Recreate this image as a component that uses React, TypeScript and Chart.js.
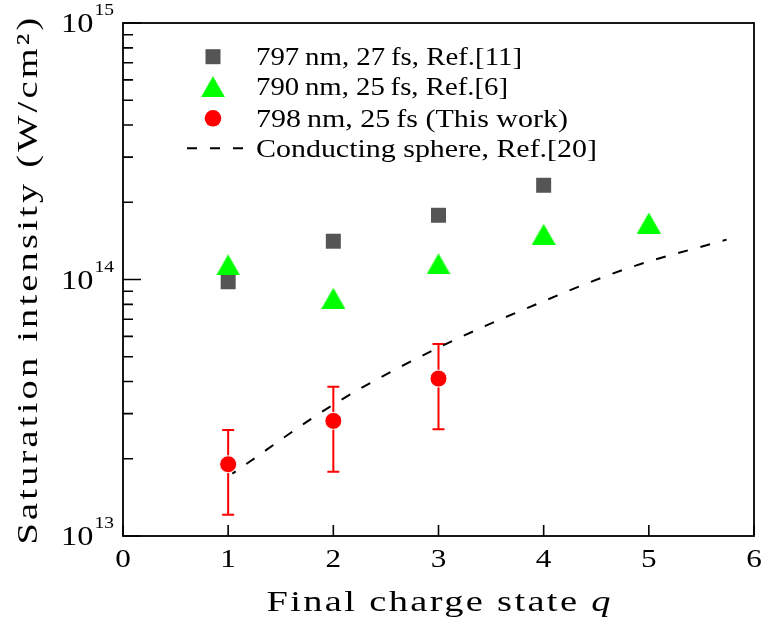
import React, { useEffect, useRef } from 'react';
import { Chart, registerables } from 'chart.js';

Chart.register(...registerables);

// ---- data ----
const qRef11 = [1, 2, 3, 4];
const iRef11 = [0.98e14, 1.41e14, 1.78e14, 2.33e14];

const qRef6 = [1, 2, 3, 4, 5];
const iRef6 = [1.14e14, 0.845e14, 1.15e14, 1.5e14, 1.66e14];

const qThis = [1, 2, 3];
const iThis = [1.905e13, 2.81e13, 4.11e13];
const iThisHigh = [2.59e13, 3.82e13, 5.6e13];
const iThisLow = [1.21e13, 1.78e13, 2.61e13];

const qSphere = [1.04, 2.03, 2.99, 3.99, 4.81, 5.74];
const iSphere = [1.75e13, 3.31e13, 5.4e13, 8.2e13, 1.11e14, 1.43e14];

const xTicks = [0, 1, 2, 3, 4, 5, 6];
const yMajorExps = [13, 14, 15];

const legendLabels = [
  '797\u2009nm, 27\u2009fs, Ref.[11]',
  '790\u2009nm, 25\u2009fs, Ref.[6]',
  '798\u2009nm, 25\u2009fs (This work)',
  'Conducting sphere, Ref.[20]',
];
const xTitleMain = 'Final charge state ';
const xTitleVar = 'q';
const yTitle = 'Saturation intensity (W/cm\u00b2)';

const SERIF = '"Liberation Serif"';
const BASE_SX = 1.28;

function makeTriangle(): HTMLCanvasElement {
  const c = document.createElement('canvas');
  c.width = 24;
  c.height = 21;
  const g = c.getContext('2d')!;
  g.fillStyle = '#00ff00';
  g.beginPath();
  g.moveTo(12, 0);
  g.lineTo(24, 21);
  g.lineTo(0, 21);
  g.closePath();
  g.fill();
  return c;
}

// draws text stretched and letter-spaced so that it covers `width` pixels
function fitText(
  ctx: CanvasRenderingContext2D,
  text: string,
  x: number,
  y: number,
  font: string,
  width: number,
  align: 'left' | 'center' | 'right'
) {
  ctx.save();
  ctx.font = font;
  (ctx as any).letterSpacing = '0px';
  const w = ctx.measureText(text).width;
  const n = text.length;
  const spacing = Math.max(0, (width / BASE_SX - w) / n);
  (ctx as any).letterSpacing = `${spacing}px`;
  const w2 = ctx.measureText(text).width;
  const sx = width / w2;
  ctx.translate(x, y);
  ctx.scale(sx, 1);
  ctx.textAlign = 'left';
  ctx.textBaseline = 'alphabetic';
  const x0 = align === 'left' ? 0 : align === 'center' ? -w2 / 2 : -w2;
  ctx.fillText(text, x0, 0);
  ctx.restore();
}

function scaledText(
  ctx: CanvasRenderingContext2D,
  text: string,
  x: number,
  y: number,
  font: string,
  sx: number,
  align: 'left' | 'center' | 'right'
) {
  ctx.save();
  ctx.font = font;
  ctx.translate(x, y);
  ctx.scale(sx, 1);
  ctx.textAlign = align;
  ctx.textBaseline = 'alphabetic';
  ctx.fillText(text, 0, 0);
  ctx.restore();
}

export default function App() {
  const ref = useRef<HTMLCanvasElement | null>(null);

  useEffect(() => {
    document.body.style.margin = '0';
    const canvas = ref.current!;
    const tri = makeTriangle();

    const plugin = {
      id: 'customFrame',
      beforeDatasetsDraw(chart: any) {
        const ctx: CanvasRenderingContext2D = chart.ctx;
        const xs = chart.scales.x;
        const ys = chart.scales.y;
        ctx.save();
        ctx.strokeStyle = '#ff0000';
        ctx.lineWidth = 2;
        qThis.forEach((q, i) => {
          const px = xs.getPixelForValue(q);
          const yh = ys.getPixelForValue(iThisHigh[i]);
          const yl = ys.getPixelForValue(iThisLow[i]);
          ctx.beginPath();
          ctx.moveTo(px, yh);
          ctx.lineTo(px, yl);
          ctx.moveTo(px - 6, yh);
          ctx.lineTo(px + 6, yh);
          ctx.moveTo(px - 6, yl);
          ctx.lineTo(px + 6, yl);
          ctx.stroke();
        });
        ctx.restore();
      },
      afterDraw(chart: any) {
        const ctx: CanvasRenderingContext2D = chart.ctx;
        const xs = chart.scales.x;
        const ys = chart.scales.y;
        const { left, right, top, bottom } = chart.chartArea;
        ctx.save();
        ctx.strokeStyle = '#000';
        ctx.fillStyle = '#000';
        ctx.lineWidth = 1.8;
        ctx.strokeRect(left, top, right - left, bottom - top);

        // y ticks
        ctx.lineWidth = 1.6;
        ctx.beginPath();
        yMajorExps.forEach((e) => {
          const y = ys.getPixelForValue(Math.pow(10, e));
          ctx.moveTo(left, y);
          ctx.lineTo(left + 18, y);
          if (e < 15) {
            for (let m = 2; m <= 9; m++) {
              const ym = ys.getPixelForValue(m * Math.pow(10, e));
              ctx.moveTo(left, ym);
              ctx.lineTo(left + 10, ym);
            }
          }
        });
        // x ticks
        xTicks.forEach((t) => {
          const x = xs.getPixelForValue(t);
          ctx.moveTo(x, bottom);
          ctx.lineTo(x, bottom - 11);
        });
        ctx.stroke();

        // x tick labels
        xTicks.forEach((t) => {
          const x = xs.getPixelForValue(t);
          scaledText(ctx, String(t), x, bottom + 31, `26px ${SERIF}`, 1.2, 'center');
        });

        // y tick labels 10^e
        yMajorExps.forEach((e) => {
          const y = ys.getPixelForValue(Math.pow(10, e));
          const supFont = `17px ${SERIF}`;
          ctx.font = supFont;
          const supW = ctx.measureText(String(e)).width * 1.15;
          const supRight = left - 9;
          scaledText(ctx, String(e), supRight, y - 8, supFont, 1.15, 'right');
          scaledText(ctx, '10', supRight - supW - 1, y + 9, `27px ${SERIF}`, 1.2, 'right');
        });

        // x axis title
        ctx.font = `30px ${SERIF}`;
        const wMain = ctx.measureText(xTitleMain).width;
        ctx.font = `italic 30px ${SERIF}`;
        const wVar = ctx.measureText(xTitleVar).width;
        const targetW = 344;
        const wVarT = wVar * BASE_SX;
        const wMainT = targetW - wVarT;
        const cx = (left + right) / 2;
        const x0 = cx - targetW / 2;
        fitText(ctx, xTitleMain, x0, 611, `30px ${SERIF}`, wMainT, 'left');
        scaledText(ctx, xTitleVar, x0 + wMainT, 611, `italic 30px ${SERIF}`, BASE_SX, 'left');

        // y axis title
        ctx.save();
        ctx.translate(37, (top + bottom) / 2);
        ctx.rotate(-Math.PI / 2);
        fitText(ctx, yTitle, 0, 0, `30px ${SERIF}`, 530, 'center');
        ctx.restore();

        // legend
        const mx = 213;
        const rows = [56.7, 86.7, 118.3, 148.3];
        const widths = [266, 252, 312, 341];
        ctx.fillStyle = '#555555';
        ctx.fillRect(mx - 7.5, rows[0] - 7.5, 15, 15);
        ctx.drawImage(tri, mx - 12, rows[1] - 10.5);
        ctx.fillStyle = '#ff0000';
        ctx.beginPath();
        ctx.arc(mx, rows[2], 8.3, 0, Math.PI * 2);
        ctx.fill();
        ctx.strokeStyle = '#000';
        ctx.lineWidth = 2;
        ctx.setLineDash([10, 13]);
        ctx.beginPath();
        ctx.moveTo(187, rows[3]);
        ctx.lineTo(243, rows[3]);
        ctx.stroke();
        ctx.setLineDash([]);
        ctx.fillStyle = '#000';
        legendLabels.forEach((lab, i) => {
          fitText(ctx, lab, 256, rows[i] + 8.5, `25px ${SERIF}`, widths[i], 'left');
        });
        ctx.restore();
      },
    };

    const chart = new Chart(canvas, {
      type: 'scatter',
      data: {
        datasets: [
          {
            label: 'sphere',
            data: qSphere.map((q, i) => ({ x: q, y: iSphere[i] })),
            showLine: true,
            borderColor: '#000',
            borderWidth: 2,
            borderDash: [10, 13],
            borderDashOffset: 6,
            cubicInterpolationMode: 'monotone',
            pointRadius: 0,
            pointHoverRadius: 0,
            order: 0,
          } as any,
          {
            label: 'this',
            data: qThis.map((q, i) => ({ x: q, y: iThis[i] })),
            pointStyle: 'circle',
            pointRadius: 8.5,
            pointHoverRadius: 8.5,
            pointBackgroundColor: '#ff0000',
            pointBorderColor: '#ffffff',
            pointBorderWidth: 1,
            order: 1,
          },
          {
            label: 'ref6',
            data: qRef6.map((q, i) => ({ x: q, y: iRef6[i] })),
            pointStyle: tri,
            pointRadius: 12,
            pointHoverRadius: 12,
            order: 2,
          },
          {
            label: 'ref11',
            data: qRef11.map((q, i) => ({ x: q, y: iRef11[i] })),
            pointStyle: 'rect',
            pointRadius: 10.6,
            pointHoverRadius: 10.6,
            pointBackgroundColor: '#555555',
            pointBorderColor: '#555555',
            pointBorderWidth: 0,
            order: 3,
          },
        ],
      },
      options: {
        responsive: false,
        animation: false,
        events: [],
        layout: { padding: { left: 123, right: 7, top: 23, bottom: 85 } },
        plugins: { legend: { display: false }, tooltip: { enabled: false } },
        scales: {
          x: { type: 'linear', min: 0, max: 6, display: false },
          y: { type: 'logarithmic', min: 1e13, max: 1e15, display: false },
        },
      },
      plugins: [plugin],
    });
    return () => chart.destroy();
  }, []);

  return (
    <div style={{ width: 767, height: 621, background: '#fff' }}>
      <canvas ref={ref} width={767} height={621} style={{ display: 'block' }} />
    </div>
  );
}
